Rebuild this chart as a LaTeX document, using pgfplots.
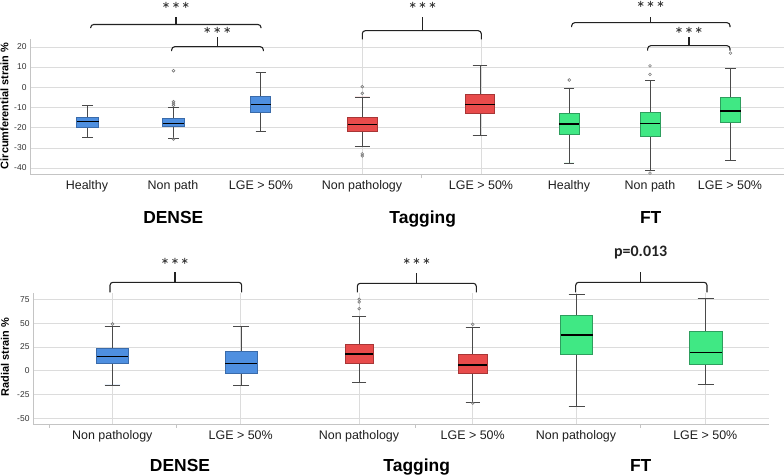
\documentclass[border=0pt]{standalone}
\usepackage{pgfplots}
\pgfplotsset{compat=1.18}
\usepgfplotslibrary{statistics}
\usepackage{fontspec}
\setmainfont{Liberation Sans}
\newfontfamily\cali{Carlito}
\definecolor{bfill}{HTML}{4E8FE0}
\definecolor{bline}{HTML}{3A6BAA}
\definecolor{rfill}{HTML}{E84B4B}
\definecolor{rline}{HTML}{A83636}
\definecolor{gfill}{HTML}{40E884}
\definecolor{gline}{HTML}{2E9E5E}
\definecolor{whisk}{HTML}{4A4A4A}
\definecolor{outl}{HTML}{7A7A7A}
\definecolor{gridc}{HTML}{DCDCDC}
\definecolor{axl}{HTML}{C4C4C4}
\definecolor{tickc}{HTML}{333333}
\definecolor{labc}{HTML}{1E1E1E}
\definecolor{brkc}{HTML}{222222}

\pgfplotsset{
  myaxis/.style={scale only axis, anchor=south west,
    axis x line*=bottom, axis y line*=left,
    axis line style={draw=axl, line width=0.8pt},
    ymajorgrids, grid style={draw=gridc, line width=0.7pt},
    major tick length=0pt, tick align=outside,
    minor tick length=4pt, minor tick style={draw=axl, line width=0.6pt},
    yticklabel style={font=\fontsize{8.5}{10}\selectfont, text=tickc},
    xticklabel style={font=\fontsize{12.5}{14}\selectfont, text=labc, yshift=-3bp},
    /pgf/number format/assume math mode=true,
    boxplot/draw direction=y,
    clip=false},
  boxB/.style={draw=bline, fill=bfill},
  boxR/.style={draw=rline, fill=rfill},
  boxG/.style={draw=gline, fill=gfill},
}
% #1 style, #2 position, #3 lower whisker, #4 Q1, #5 median, #6 Q3, #7 upper whisker, #8 box width, #9 outliers
\newcommand{\bx}[9]{%
  \addplot[#1, line width=0.8pt,
    boxplot prepared={draw position=#2, lower whisker=#3, lower quartile=#4,
      median=#5, upper quartile=#6, upper whisker=#7,
      box extend=#8, whisker extend=#8*0.5},
    boxplot/every whisker/.style={draw=whisk, line width=0.8pt},
    boxplot/every median/.style={draw=black, line width=1.3pt},
    mark=o, mark size=1.4pt, mark options={draw=outl, fill=none, line width=0.6pt}]
    coordinates {#9};}

\begin{document}
\begin{tikzpicture}
\useasboundingbox (0,0) rectangle (784bp,-476bp);

% ---------------- top row: circumferential strain ----------------
\begin{axis}[myaxis, at={(30bp,-174.3bp)}, width=754bp, height=135.3bp,
  xmin=30, xmax=784, ymin=-43.1, ymax=23.9,
  ytick={-40,-30,...,20},
  xtick={87,173,261,569,650,730},
  xticklabels={Healthy, Non path, LGE > 50\%, Healthy, Non path, LGE > 50\%},
  extra x ticks={362,481},
  extra x tick labels={Non pathology, LGE > 50\%},
  extra x tick style={grid=major, major grid style={draw=gridc, line width=0.7pt}},
  minor xtick={421.7}]
  % DENSE
  \bx{boxB}{87.5}{-25}{-20}{-16.9}{-14.9}{-8.9}{22}{}
  \bx{boxB}{173.5}{-25.3}{-19.5}{-17.9}{-15.5}{-10}{21.6}{(0,8.2) (0,-7.2) (0,-8) (0,-8.9) (0,-25.6)}
  \bx{boxB}{260.7}{-21.8}{-12.4}{-8.4}{-4.3}{7.4}{20}{}
  % Tagging
  \bx{boxR}{362.3}{-29.3}{-21.8}{-18.5}{-14.9}{-4.8}{29.3}{(0,0.3) (0,-3) (0,-33) (0,-34)}
  \bx{boxR}{480}{-23.8}{-12.7}{-8.4}{-3.3}{10.9}{29.4}{}
  % FT
  \bx{boxG}{569.3}{-37.5}{-23.5}{-18.2}{-12.7}{-0.5}{20}{(0,3.6)}
  \bx{boxG}{650}{-41.1}{-24.3}{-17.8}{-12.6}{3.6}{20}{(0,10.6) (0,6.4) (0,-42.5)}
  \bx{boxG}{730.5}{-36.2}{-17.4}{-11.8}{-4.8}{9.4}{20.4}{(0,16.9)}
\end{axis}

% ---------------- bottom row: radial strain ----------------
\begin{axis}[myaxis, at={(33bp,-424bp)}, width=736bp, height=130.7bp,
  xmin=33, xmax=769, ymin=-56, ymax=81.3,
  ytick={-50,-25,...,75},
  xmajorgrids,
  xtick={112.3,240.7,359,472.7,576,705.3},
  xticklabels={Non pathology, LGE > 50\%, Non pathology, LGE > 50\%, Non pathology, LGE > 50\%},
  minor xtick={49,176.7,415.7,640.7}]
  % DENSE
  \bx{boxB}{112.5}{-15}{7.4}{15.1}{23.1}{46.6}{31.6}{(0,49)}
  \bx{boxB}{241.2}{-15.8}{-3.2}{7.7}{20.7}{46.2}{32.3}{}
  % Tagging
  \bx{boxR}{359.2}{-12.2}{7.4}{17.5}{27.7}{56.7}{28.3}{(0,75) (0,72.2) (0,65.1)}
  \bx{boxR}{472.7}{-33.2}{-3.2}{6}{17.2}{45.2}{28.7}{(0,48.7) (0,-34)}
  % FT
  \bx{boxG}{576.7}{-37.4}{17.2}{37.5}{58.5}{80}{32}{}
  \bx{boxG}{705.8}{-14.7}{7}{19.3}{41.4}{76}{32.3}{}
\end{axis}

% ---------------- annotations (pixel coordinates) ----------------
\begin{scope}[x=1bp, y=-1bp]
  \tikzset{brk/.style={draw=brkc, line width=1.1pt, rounded corners=3bp}}
  \newcommand{\brk}[6]{%
    \draw[brk] (#1,#5) -- (#1,#4) -- (#2,#4) -- (#2,#5);
    \draw[brk] (#3,#4+0.5) -- (#3,#6);}
  \newcommand{\stars}[2]{\node[anchor=base, inner sep=0pt, text=brkc,
    font=\cali\fontsize{20}{20}\selectfont] at (#1,#2) {***};}
  % top brackets
  \brk{90.7}{261}{176}{24.5}{28}{17}
  \stars{176}{16}
  \brk{171.7}{263.3}{217.3}{46.7}{51}{36.7}
  \stars{217.3}{41}
  \brk{362.3}{481.3}{422.7}{30.7}{39.3}{17}
  \stars{422.7}{16.5}
  \brk{571.7}{730}{650.7}{22.7}{27}{16.5}
  \stars{650.7}{15.5}
  \brk{647.7}{730}{689}{45.7}{50.7}{37.3}
  \stars{689}{41}
  % bottom brackets
  \brk{110}{241.7}{175}{282.3}{292.3}{272.3}
  \stars{175}{272.5}
  \brk{357.3}{476.3}{416.7}{283.3}{292.3}{272.7}
  \stars{416.7}{272.5}
  \brk{575.7}{707}{640.7}{282.3}{292.3}{272.3}
  \node[anchor=base, inner sep=0pt, text=brkc, font=\cali\bfseries\fontsize{16}{16}\selectfont] at (640.7,256.5) {p=0.013};
  % group labels
  \tikzset{grp/.style={anchor=base, inner sep=0pt, font=\bfseries\fontsize{17.5}{18}\selectfont}}
  \node[grp] at (173.3,223) {DENSE};
  \node[grp] at (422.7,223) {Tagging};
  \node[grp] at (650.7,223) {FT};
  \node[grp] at (180,471.5) {DENSE};
  \node[grp] at (416.7,471.5) {Tagging};
  \node[grp] at (640.7,471.5) {FT};
  % y labels
  \node[rotate=90, inner sep=0pt, font=\bfseries\fontsize{11}{12}\selectfont] at (4.5,106) {Circumferential strain \%};
  \node[rotate=90, inner sep=0pt, font=\bfseries\fontsize{11}{12}\selectfont] at (5,357) {Radial strain \%};
\end{scope}
\end{tikzpicture}
\end{document}
